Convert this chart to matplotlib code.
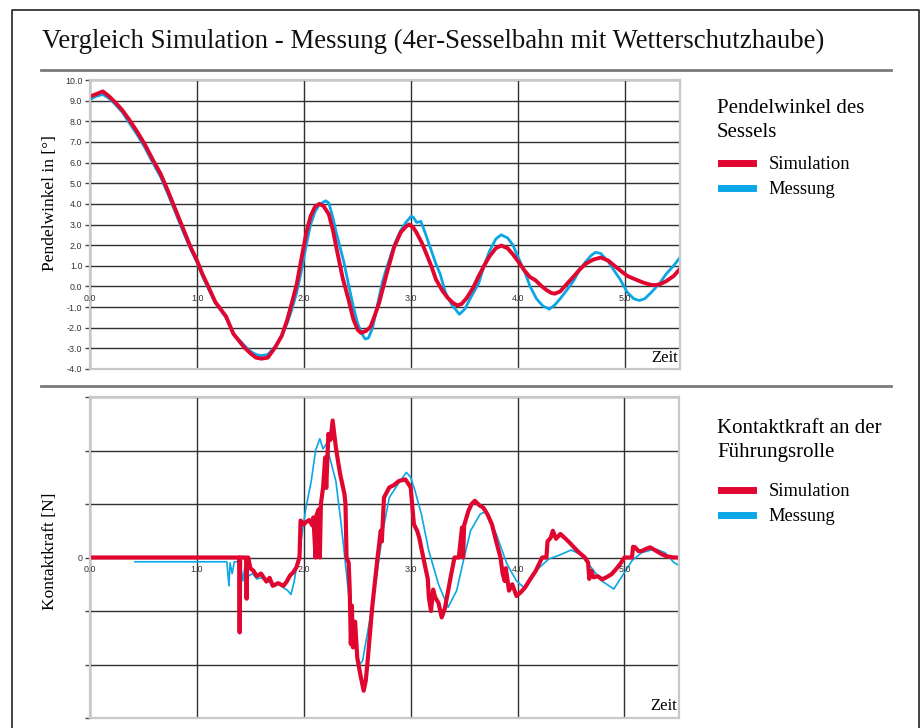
import matplotlib
matplotlib.use('Agg')
import matplotlib.pyplot as plt
import numpy as np

# --- Pendelwinkel (oben) ---
t_sim_w = [0.00, 0.05, 0.12, 0.18, 0.23, 0.30, 0.37, 0.44, 0.51, 0.58, 0.66, 0.73, 0.80, 0.87, 0.94,
           1.00, 1.05, 1.10, 1.17, 1.27, 1.34, 1.44, 1.50, 1.55, 1.60, 1.66, 1.73, 1.79, 1.84, 1.88,
           1.93, 1.98, 2.02, 2.06, 2.10, 2.14, 2.18, 2.23, 2.27, 2.30, 2.36, 2.41, 2.46, 2.50, 2.53,
           2.58, 2.62, 2.66, 2.70, 2.74, 2.77, 2.84, 2.90, 2.95, 2.98, 3.02, 3.05, 3.10, 3.14, 3.19,
           3.23, 3.29, 3.34, 3.39, 3.43, 3.47, 3.52, 3.58, 3.63, 3.68, 3.73, 3.79, 3.84, 3.90, 3.95,
           4.00, 4.06, 4.11, 4.16, 4.22, 4.27, 4.31, 4.34, 4.39, 4.45, 4.52, 4.57, 4.63, 4.70, 4.77,
           4.84, 4.91, 4.97, 5.02, 5.09, 5.16, 5.22, 5.27, 5.32, 5.38, 5.45, 5.51]
sim_w = [9.2, 9.3, 9.45, 9.2, 8.95, 8.55, 8.05, 7.5, 6.9, 6.2, 5.45, 4.6, 3.7, 2.8, 1.9,
         1.25, 0.6, 0.05, -0.75, -1.45, -2.3, -2.95, -3.25, -3.45, -3.5, -3.45, -2.95, -2.4, -1.65, -0.9,
         0.1, 1.5, 2.6, 3.4, 3.85, 4.0, 3.9, 3.5, 2.7, 1.9, 0.4, -0.55, -1.6, -2.1, -2.25,
         -2.15, -1.95, -1.4, -0.8, 0.0, 0.6, 1.9, 2.6, 2.9, 3.0, 2.85, 2.6, 2.1, 1.6, 0.95,
         0.35, -0.2, -0.55, -0.8, -0.92, -0.85, -0.55, -0.05, 0.5, 1.0, 1.45, 1.85, 1.98, 1.85, 1.55,
         1.2, 0.75, 0.45, 0.3, 0.0, -0.2, -0.32, -0.35, -0.25, 0.1, 0.5, 0.8, 1.1, 1.3, 1.4,
         1.25, 0.95, 0.7, 0.5, 0.35, 0.2, 0.1, 0.06, 0.1, 0.25, 0.5, 0.85]

t_mess_w = [0.00, 0.05, 0.12, 0.18, 0.23, 0.30, 0.37, 0.44, 0.51, 0.58, 0.66, 0.73, 0.80, 0.87, 0.94,
            1.00, 1.05, 1.10, 1.17, 1.27, 1.34, 1.44, 1.50, 1.55, 1.60, 1.66, 1.73, 1.79, 1.84, 1.88,
            1.93, 1.98, 2.02, 2.06, 2.10, 2.14, 2.20, 2.23, 2.27, 2.30, 2.37, 2.41, 2.46, 2.50, 2.54,
            2.57, 2.60, 2.64, 2.68, 2.73, 2.77, 2.84, 2.90, 2.95, 3.00, 3.02, 3.05, 3.09, 3.13, 3.19,
            3.23, 3.27, 3.32, 3.38, 3.45, 3.50, 3.56, 3.63, 3.68, 3.73, 3.79, 3.84, 3.90, 3.95, 4.00,
            4.06, 4.11, 4.17, 4.23, 4.29, 4.34, 4.39, 4.45, 4.52, 4.57, 4.63, 4.68, 4.72, 4.77, 4.84,
            4.91, 4.95, 5.02, 5.08, 5.13, 5.18, 5.24, 5.32, 5.38, 5.45, 5.51]
mess_w = [9.05, 9.2, 9.3, 9.1, 8.85, 8.45, 7.9, 7.35, 6.75, 6.05, 5.3, 4.45, 3.55, 2.65, 1.8,
          1.15, 0.5, -0.05, -0.8, -1.5, -2.3, -2.85, -3.15, -3.3, -3.35, -3.3, -2.9, -2.4, -1.8, -1.2,
          -0.3, 0.9, 2.0, 3.0, 3.6, 3.95, 4.15, 4.05, 3.3, 2.6, 1.2, 0.2, -1.0, -1.8, -2.3,
          -2.55, -2.5, -2.0, -1.0, 0.2, 0.9, 2.0, 2.7, 3.1, 3.4, 3.35, 3.1, 3.15, 2.6, 1.7,
          1.1, 0.6, -0.3, -0.9, -1.35, -1.1, -0.5, 0.15, 1.0, 1.7, 2.3, 2.5, 2.35, 2.0, 1.4,
          0.7, 0.0, -0.6, -0.95, -1.1, -0.9, -0.6, -0.2, 0.3, 0.8, 1.2, 1.5, 1.65, 1.6, 1.2,
          0.65, 0.35, -0.3, -0.6, -0.68, -0.6, -0.3, 0.15, 0.6, 1.0, 1.4]

# --- Kontaktkraft (unten), Skala ohne Einheit ---
t_sim_k = [0.00, 1.395, 1.40, 1.405, 1.46, 1.465, 1.47, 1.48, 1.50, 1.53, 1.56, 1.60, 1.65, 1.68, 1.71,
           1.76, 1.81, 1.84, 1.87, 1.90, 1.93, 1.96, 1.97, 2.00, 2.02, 2.05, 2.08, 2.09, 2.11, 2.12,
           2.14, 2.15, 2.16, 2.18, 2.20, 2.21, 2.23, 2.25, 2.27, 2.30, 2.32, 2.34, 2.38, 2.39, 2.40,
           2.42, 2.43, 2.44, 2.45, 2.46, 2.48, 2.50, 2.53, 2.56, 2.58, 2.60, 2.64, 2.69, 2.72, 2.73,
           2.75, 2.80, 2.84, 2.89, 2.95, 3.00, 3.03, 3.06, 3.08, 3.13, 3.16, 3.17, 3.19, 3.21, 3.23,
           3.26, 3.29, 3.32, 3.35, 3.38, 3.41, 3.45, 3.48, 3.49, 3.50, 3.54, 3.57, 3.60, 3.64, 3.68,
           3.72, 3.76, 3.80, 3.84, 3.86, 3.88, 3.89, 3.92, 3.95, 3.99, 4.03, 4.07, 4.12, 4.17, 4.23,
           4.27, 4.28, 4.31, 4.33, 4.36, 4.40, 4.45, 4.50, 4.56, 4.63, 4.66, 4.67, 4.69, 4.71, 4.75,
           4.79, 4.84, 4.88, 4.92, 4.96, 5.00, 5.04, 5.07, 5.08, 5.10, 5.13, 5.16, 5.20, 5.24, 5.30,
           5.35, 5.40, 5.46, 5.51]
sim_k = [0.0, 0.0, -1.4, 0.0, 0.0, -0.77, -0.1, 0.0, -0.2, -0.25, -0.35, -0.3, -0.45, -0.38, -0.53,
         -0.48, -0.53, -0.45, -0.34, -0.28, -0.19, 0.0, 0.69, 0.62, 0.66, 0.7, 0.6, 0.75, 0.0, 0.8,
         0.9, 0.0, 1.0, 1.3, 1.87, 1.3, 2.31, 2.2, 2.56, 2.06, 1.8, 1.56, 1.19, 1.0, 0.0,
         -0.1, -0.62, -1.62, -0.9, -1.68, -1.2, -1.87, -2.2, -2.49, -2.3, -1.87, -0.93, 0.0, 0.5, 0.3,
         1.12, 1.31, 1.35, 1.43, 1.46, 1.31, 0.62, 0.5, 0.37, -0.12, -0.4, -0.75, -1.0, -0.6, -0.75,
         -0.85, -1.12, -0.95, -0.62, -0.3, 0.0, 0.0, 0.56, 0.0, 0.6, 0.87, 1.0, 1.06, 0.98, 0.93,
         0.8, 0.62, 0.3, 0.0, -0.3, -0.44, -0.2, -0.62, -0.5, -0.72, -0.65, -0.56, -0.4, -0.25, 0.0,
         0.0, 0.3, 0.37, 0.5, 0.35, 0.44, 0.35, 0.25, 0.12, 0.0, -0.1, -0.4, -0.25, -0.37, -0.35,
         -0.41, -0.36, -0.31, -0.22, -0.12, 0.0, 0.0, 0.0, 0.2, 0.19, 0.12, 0.12, 0.16, 0.19, 0.12,
         0.06, 0.02, 0.0, 0.0]

t_mess_k = [0.42, 1.20, 1.28, 1.30, 1.31, 1.33, 1.35, 1.40, 1.42, 1.43, 1.45, 1.48, 1.52, 1.56, 1.60,
            1.65, 1.70, 1.75, 1.80, 1.85, 1.88, 1.91, 1.93, 1.96, 2.02, 2.07, 2.11, 2.15, 2.18, 2.21,
            2.25, 2.30, 2.35, 2.40, 2.46, 2.52, 2.55, 2.61, 2.68, 2.74, 2.80, 2.90, 2.96, 3.00, 3.04,
            3.10, 3.17, 3.26, 3.35, 3.43, 3.50, 3.56, 3.65, 3.71, 3.80, 3.90, 3.99, 4.06, 4.17, 4.29,
            4.41, 4.50, 4.59, 4.69, 4.79, 4.90, 4.99, 5.07, 5.16, 5.29, 5.38, 5.46, 5.51]
mess_k = [-0.08, -0.08, -0.08, -0.53, -0.1, -0.3, -0.08, -0.08, -0.3, -0.44, -0.15, -0.35, -0.3, -0.4, -0.38,
          -0.42, -0.5, -0.48, -0.55, -0.62, -0.69, -0.45, -0.2, 0.12, 0.93, 1.43, 2.0, 2.22, 2.03, 2.12,
          1.81, 1.43, 0.62, -0.31, -1.5, -2.0, -1.93, -1.25, -0.37, 0.5, 1.12, 1.43, 1.59, 1.5, 1.25,
          0.81, 0.12, -0.5, -0.93, -0.62, 0.0, 0.5, 0.81, 0.87, 0.44, -0.12, -0.44, -0.56, -0.25, -0.03,
          0.06, 0.14, 0.06, -0.19, -0.44, -0.59, -0.31, -0.06, 0.09, 0.16, 0.09, -0.09, -0.15]

x_ticks = [0.0, 1.0, 2.0, 3.0, 4.0, 5.0]
w_ticks = [10.0, 9.0, 8.0, 7.0, 6.0, 5.0, 4.0, 3.0, 2.0, 1.0, 0.0, -1.0, -2.0, -3.0, -4.0]
k_ticks = [-3, -2, -1, 0, 1, 2, 3]

RED = '#e0062f'
BLUE = '#0aa6e6'
SERIF = 'Liberation Serif'
SANS = 'Liberation Sans'
W, H = 921, 728

plt.rcParams['font.family'] = SERIF

fig = plt.figure(figsize=(W / 100, H / 100), dpi=100)

# frame and separators in pixel coordinates
bg = fig.add_axes([0, 0, 1, 1], zorder=-1)
bg.set_xlim(0, W)
bg.set_ylim(H, 0)
bg.axis('off')
bg.plot([12, 12, 919, 919], [H, 10, 10, H], color='#222222', lw=1.2)
bg.plot([41, 891], [70, 70], color='#7a7a7a', lw=2)
bg.plot([41, 891], [385.5, 385.5], color='#7a7a7a', lw=2)

fig.text(42 / W, 1 - 48 / H, 'Vergleich Simulation - Messung (4er-Sesselbahn mit Wetterschutzhaube)',
         fontsize=19.3, va='baseline', ha='left', color='#111111')


def px_axes(left, top, right, bottom):
    return fig.add_axes([left / W, 1 - bottom / H, (right - left) / W, (bottom - top) / H])


def style(ax, yt, ylabels):
    ax.set_xlim(0, 5.51)
    ax.set_xticks(x_ticks)
    ax.set_xticklabels([])
    ax.tick_params(axis='x', length=0)
    ax.set_yticks(yt)
    ax.set_yticklabels(ylabels, fontfamily=SANS, fontsize=6.4, color='#333333')
    ax.tick_params(axis='y', length=3.5, width=1, color='#444444', pad=2)
    ax.grid(True, color='#303030', lw=1.0)
    for s in ax.spines.values():
        s.set_color('#c8c8c8')
        s.set_linewidth(1.6)
    ax.set_axisbelow(True)
    for xt in x_ticks:
        ax.annotate(f'{xt:.1f}', (xt, 0), xytext=(0, -9), textcoords='offset points',
                    ha='center', va='center', fontfamily=SANS, fontsize=6.4, color='#333333')
    ax.text(0.996, 0.012, 'Zeit', transform=ax.transAxes, ha='right', va='bottom', fontsize=12)


# upper chart
ax1 = px_axes(90, 80, 680, 369)
ax1.plot(t_mess_w, mess_w, color=BLUE, lw=2.0, label='Messung')
ax1.plot(t_sim_w, sim_w, color=RED, lw=2.8, label='Simulation')
ax1.set_ylim(-4, 10)
style(ax1, w_ticks, [f'{v:.1f}' for v in w_ticks])
ax1.set_ylabel('Pendelwinkel in [°]', fontsize=12.5)
ax1.yaxis.set_label_coords(-32 / 590, 0.573)

# lower chart
ax2 = px_axes(90, 397, 679, 718)
ax2.plot(t_mess_k, mess_k, color=BLUE, lw=1.2, label='Messung')
ax2.plot(t_sim_k, sim_k, color=RED, lw=3.0, label='Simulation')
ax2.set_ylim(-3, 3)
style(ax2, k_ticks, ['0' if v == 0 else '' for v in k_ticks])
ax2.set_ylabel('Kontaktkraft [N]', fontsize=12.5)
ax2.yaxis.set_label_coords(-32 / 589, 0.52)

for ax, title, top, leg_top in [(ax1, 'Pendelwinkel des\nSessels', 99, 147),
                                (ax2, 'Kontaktkraft an der\nFührungsrolle', 419, 474)]:
    fig.text(717 / W, 1 - top / H, title, ha='left', va='top', fontsize=15, linespacing=1.38)
    h, l = ax.get_legend_handles_labels()
    leg = ax.legend(h[::-1], l[::-1], loc='upper left',
                    bbox_to_anchor=(712 / W, 1 - leg_top / H), bbox_transform=fig.transFigure,
                    frameon=False, fontsize=13.3, borderpad=0, handlelength=1.7,
                    handletextpad=0.85, labelspacing=0.42)
    for ln in leg.get_lines():
        ln.set_linewidth(5)

fig.savefig('out.png', dpi=100)
